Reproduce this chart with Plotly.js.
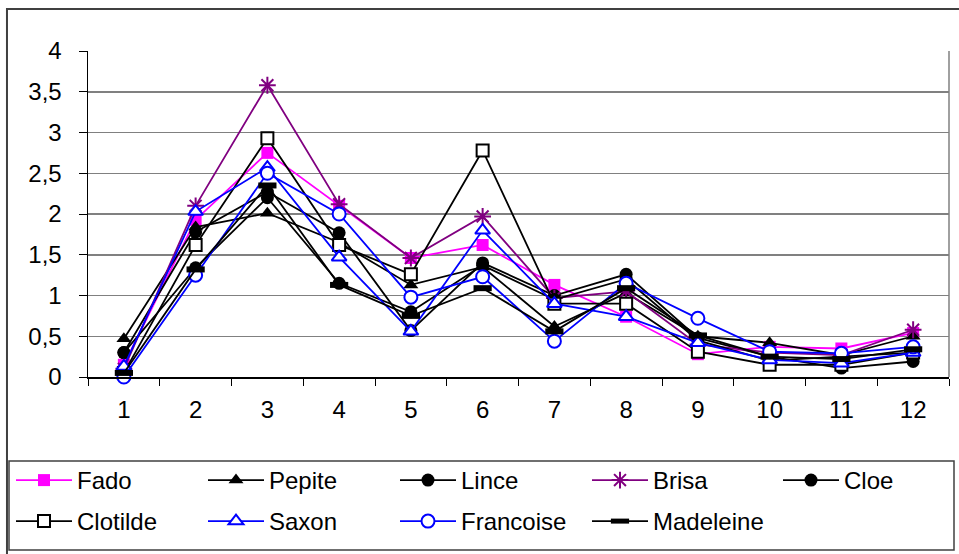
<!DOCTYPE html>
<html>
<head>
<meta charset="utf-8">
<script src="https://cdn.plot.ly/plotly-3.0.1.min.js"></script>
<style>html,body{margin:0;padding:0;background:#fff;}#chart{width:959px;height:554px;}</style>
</head>
<body>
<div id="chart"></div>
<script>
const categories = ['1','2','3','4','5','6','7','8','9','10','11','12'];
const yTickVals = [0, 0.5, 1, 1.5, 2, 2.5, 3, 3.5, 4];
const yTickLabels = ['0','0,5','1','1,5','2','2,5','3','3,5','4'];

const fado      = [0.15, 1.93, 2.75, 2.10, 1.46, 1.62, 1.13, 0.74, 0.28, 0.37, 0.35, 0.54];
const pepite    = [0.47, 1.84, 2.01, 1.65, 1.13, 1.35, 0.62, 1.03, 0.50, 0.42, 0.27, 0.50];
const lince     = [0.30, 1.78, 2.27, 1.77, 0.57, 1.40, 1.00, 1.26, 0.48, 0.25, 0.11, 0.19];
const brisa     = [0.10, 2.10, 3.58, 2.12, 1.46, 1.97, 0.97, 1.05, 0.40, 0.30, 0.27, 0.58];
const cloe      = [0.30, 1.34, 2.20, 1.15, 0.80, 1.37, 0.95, 1.20, 0.45, 0.20, 0.25, 0.30];
const clotilde  = [0.05, 1.62, 2.93, 1.62, 1.26, 2.78, 0.90, 0.90, 0.31, 0.15, 0.15, 0.30];
const saxon     = [0.13, 2.03, 2.57, 1.47, 0.56, 1.80, 0.90, 0.74, 0.42, 0.21, 0.17, 0.30];
const francoise = [0.00, 1.25, 2.50, 2.00, 0.98, 1.23, 0.44, 1.15, 0.72, 0.31, 0.29, 0.37];
const madeleine = [0.05, 1.32, 2.35, 1.13, 0.75, 1.09, 0.56, 1.09, 0.51, 0.25, 0.22, 0.34];

function tr(name, y, color, marker, legendId) {
  return {
    type: 'scatter', mode: 'lines+markers', name: name,
    x: categories, y: y,
    line: {color: color, width: 1.8},
    marker: marker,
    legend: legendId,
    cliponaxis: false
  };
}

const traces = [
  tr('Fado', fado, '#FF00FF', {symbol: 'square', size: 12, color: '#FF00FF', line: {width: 0}}, 'legend'),
  tr('Pepite', pepite, '#000000', {symbol: 'triangle-up', size: 13, color: '#000000', line: {width: 0}}, 'legend'),
  tr('Lince', lince, '#000000', {symbol: 'circle', size: 13, color: '#000000', line: {width: 0}}, 'legend'),
  tr('Brisa', brisa, '#800080', {symbol: 'asterisk-open', size: 14, color: '#800080', line: {width: 2, color: '#800080'}}, 'legend'),
  tr('Cloe', cloe, '#000000', {symbol: 'circle', size: 13, color: '#000000', line: {width: 0}}, 'legend3'),
  tr('Clotilde', clotilde, '#000000', {symbol: 'square', size: 12, color: '#FFFFFF', line: {width: 2, color: '#000000'}}, 'legend2'),
  tr('Saxon', saxon, '#0000FF', {symbol: 'triangle-up', size: 13, color: '#FFFFFF', line: {width: 2, color: '#0000FF'}}, 'legend2'),
  tr('Francoise', francoise, '#0000FF', {symbol: 'circle', size: 13, color: '#FFFFFF', line: {width: 2, color: '#0000FF'}}, 'legend2'),
  tr('Madeleine', madeleine, '#000000', {symbol: 'line-ew', size: 13, color: '#000000', line: {width: 6, color: '#000000'}}, 'legend2')
];

const legendFont = {size: 24, family: 'Liberation Sans, Arial, sans-serif', color: '#000000'};
function legendBox(xPaper, yPaper, ew) {
  return {
    orientation: 'h', x: xPaper, xanchor: 'left', y: yPaper, yanchor: 'top',
    borderwidth: 0, bgcolor: 'rgba(0,0,0,0)',
    entrywidth: ew, entrywidthmode: 'pixels', itemwidth: 56,
    font: legendFont, traceorder: 'normal'
  };
}

const layout = {
  width: 959, height: 554,
  margin: {l: 88, r: 10, t: 51, b: 177, autoexpand: false},
  paper_bgcolor: '#FFFFFF', plot_bgcolor: '#FFFFFF',
  font: {family: 'Liberation Sans, Arial, sans-serif', size: 24, color: '#000000'},
  separators: ', ',
  xaxis: {
    type: 'category', range: [-0.5, 11.5], tickson: 'boundaries',
    ticks: 'outside', ticklen: 7, tickwidth: 1, tickcolor: '#000000',
    showline: true, linecolor: '#000000', linewidth: 1.5,
    showgrid: false, zeroline: false, ticklabelstandoff: 11,
    tickfont: {size: 24}, automargin: false
  },
  yaxis: {
    range: [0, 4], tickvals: yTickVals, ticktext: yTickLabels,
    ticks: 'outside', ticklen: 8, tickwidth: 1, tickcolor: '#000000',
    showline: true, linecolor: '#000000', linewidth: 1.5,
    showgrid: true, gridcolor: '#808080', gridwidth: 1.5, zeroline: false,
    ticklabelstandoff: 12, tickfont: {size: 24}, automargin: false
  },
  showlegend: true,
  legend: legendBox((11 - 88) / 861, (377 - 458) / 326, 121),
  legend2: legendBox((11 - 88) / 861, (377 - 499) / 326, 121),
  legend3: legendBox((778 - 88) / 861, (377 - 458) / 326, 60),
  shapes: [
    {type: 'line', xref: 'paper', yref: 'paper', x0: 1, x1: 1, y0: 0, y1: 1,
     line: {color: '#808080', width: 1.5}},
    {type: 'rect', xref: 'paper', yref: 'paper', x0: -0.0941, x1: 1.03, y0: -0.6, y1: 1.1288,
     line: {color: '#404040', width: 2}, fillcolor: 'rgba(0,0,0,0)', layer: 'below'},
    {type: 'rect', xref: 'paper', yref: 'paper',
     x0: (9 - 88) / 861, x1: (954 - 88) / 861, y0: (377 - 550) / 326, y1: (377 - 461) / 326,
     line: {color: '#404040', width: 1.5}, fillcolor: 'rgba(0,0,0,0)', layer: 'below'}
  ]
};

Plotly.newPlot('chart', traces, layout, {displayModeBar: false, staticPlot: true});
</script>
</body>
</html>
